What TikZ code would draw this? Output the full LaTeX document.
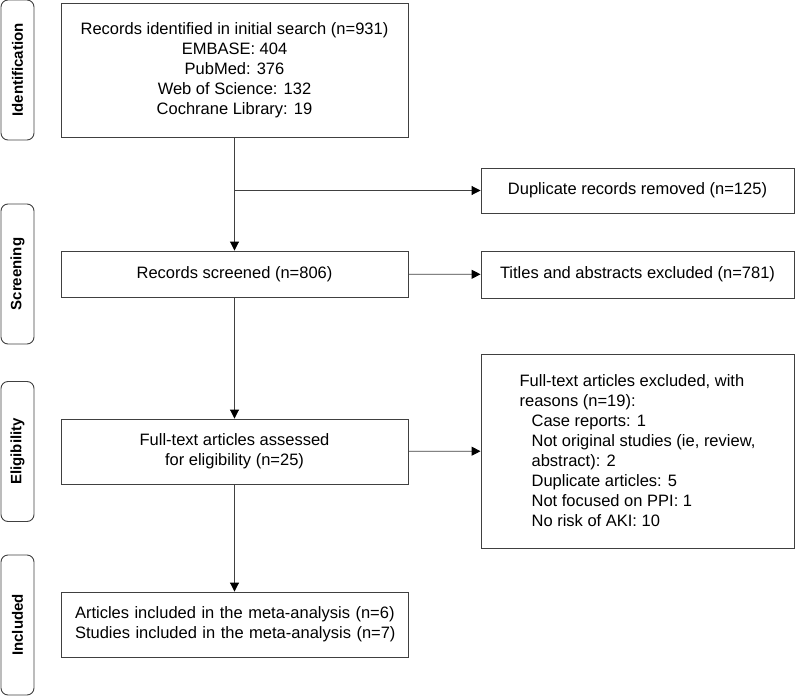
\documentclass[tikz,border=0pt]{standalone}
\usepackage{fontspec}
\setmainfont{Liberation Sans}
\usetikzlibrary{arrows.meta}
\definecolor{linegray}{HTML}{404040}

\begin{document}
\begin{tikzpicture}[x=1pt,y=-1pt,
	box/.style = {draw=linegray, line width=0.9pt, minimum width=347pt, inner sep=0pt,
		font=\fontsize{16.5}{20}\selectfont},
	stage/.style = {draw=linegray, line width=0.9pt, rounded corners=7pt, rotate=90,
		minimum width=140pt, minimum height=33pt, inner sep=0pt,
		font=\fontsize{15}{18}\selectfont\bfseries},
	flow/.style = {draw=linegray, line width=0.9pt, -{Triangle[length=9pt,width=9pt,color=black]}}]
				%\draw [help lines] (0,0) grid (795,696);
				\useasboundingbox (0,0) rectangle (795,696);
				% stage labels
				\node [stage] (identification) at (17.5,70) {Identification};
				\node [stage] (screening) at (17.5,274) {Screening};
				\node [stage] (eligibility) at (17.5,451.5) {Eligibility};
				\node [stage] (included) at (17.5,625) {Included};
				% main column
				\node [box, minimum height=134pt, align=center] (search) at (234.5,70)
					{Records identified in initial search (n=931)\\ EMBASE: 404\\ PubMed: 376\\
					Web of Science: 132\\ Cochrane Library: 19};
				\node [box, minimum height=46pt] (screened) at (234.5,274) {Records screened (n=806)};
				\node [box, minimum height=65pt, align=center] (assessed) at (234.5,451.5)
					{Full-text articles assessed\\ for eligibility (n=25)};
				\node [box, minimum height=65pt, align=left, text width=319pt] (meta) at (234.5,624.5)
					{\mbox{Articles included in the meta-analysis (n=6)}\\
					\mbox{Studies included in the meta-analysis (n=7)}};
				% right column
				\node [box, minimum width=313pt, minimum height=45pt] (duplicates) at (637.5,190.5)
					{Duplicate records removed (n=125)};
				\node [box, minimum width=313pt, minimum height=47pt] (titles) at (637.5,274.5)
					{Titles and abstracts excluded (n=781)};
				\node [box, minimum width=313pt, minimum height=194pt, align=left] (fulltext) at (637.5,451)
					{Full-text articles excluded, with\\ reasons (n=19):\\
					\hspace*{12pt}Case reports: 1\\
					\hspace*{12pt}Not original studies (ie, review,\\
					\hspace*{12pt}abstract): 2\\
					\hspace*{12pt}Duplicate articles: 5\\
					\hspace*{12pt}Not focused on PPI: 1\\
					\hspace*{12pt}No risk of AKI: 10};
				% connectors
				\coordinate (branch) at (search.south |- duplicates.west);
				\draw [flow] (search) -- (screened);
				\draw [flow] (branch) -- (duplicates);
				\draw [flow] (screened) -- (titles);
				\draw [flow] (screened) -- (assessed);
				\draw [flow] (assessed) -- (fulltext);
				\draw [flow] (assessed) -- (meta);
		\end{tikzpicture}
\end{document}
